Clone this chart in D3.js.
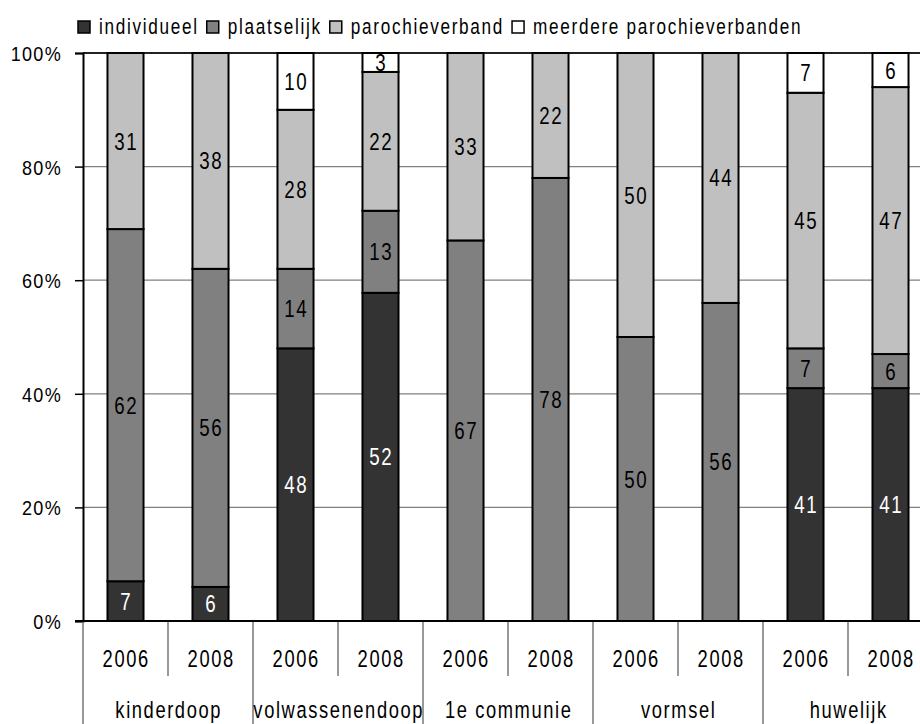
<!DOCTYPE html>
<html><head><meta charset="utf-8">
<script src="https://cdn.jsdelivr.net/npm/d3@7"></script>
<style>
body{margin:0;background:#fff;}
text{font-family:"Liberation Sans Narrow","Arial Narrow","Liberation Sans",Arial,sans-serif;}
</style></head>
<body><svg id="c" width="920" height="724"></svg>
<script>
const groups = ["kinderdoop","volwassenendoop","1e communie","vormsel","huwelijk"];
const years = ["2006","2008"];
const seriesNames = ["individueel","plaatselijk","parochieverband","meerdere parochieverbanden"];
const individueel     = [7, 6, 48, 52, 0, 0, 0, 0, 41, 41];
const plaatselijk     = [62, 56, 14, 13, 67, 78, 50, 56, 7, 6];
const parochieverband = [31, 38, 28, 22, 33, 22, 50, 44, 45, 47];
const meerdere        = [0, 0, 10, 3, 0, 0, 0, 0, 7, 6];
const yTicks = [0, 0.2, 0.4, 0.6, 0.8, 1.0];
const colors = ["#333333","#808080","#c0c0c0","#ffffff"];
const labelColors = ["#ffffff","#000000","#000000","#000000"];

(function(){
const SX = 0.78;
const rows = [];
groups.forEach((g,gi)=>years.forEach((y,yi)=>{
  const i = gi*2+yi;
  rows.push({key:g+"|"+y, group:g, year:y,
    individueel:individueel[i], plaatselijk:plaatselijk[i],
    parochieverband:parochieverband[i], "meerdere parochieverbanden":meerdere[i]});
}));

const svg = d3.select("#c");
const pL = 83, pR = 933, pT = 53, pB = 621;
const x = d3.scaleBand().domain(rows.map(d=>d.key)).range([pL,pR]).paddingInner(0.576).paddingOuter(0.288);
const y = d3.scaleLinear().domain([0,1]).range([pB,pT]);
const stack = d3.stack().keys(seriesNames).offset(d3.stackOffsetExpand);
const series = stack(rows);

function ctext(parent, tx, ty, str, size, anchor, sx, ls){
  return parent.append("text")
    .attr("transform",`translate(${tx},${ty}) scale(${sx},1)`)
    .attr("x",0).attr("y",0).attr("text-anchor",anchor)
    .attr("font-size",size).attr("letter-spacing",ls/sx).text(str);
}

// gridlines
svg.append("g").selectAll("line").data(yTicks.filter(t=>t>0 && t<1)).join("line")
  .attr("x1",pL).attr("x2",920).attr("y1",d=>y(d)).attr("y2",d=>y(d))
  .attr("stroke","#808080").attr("stroke-width",1.2);
svg.append("line").attr("x1",pL).attr("x2",920).attr("y1",y(1)).attr("y2",y(1))
  .attr("stroke","#222").attr("stroke-width",2);

// y axis
const yAxis = d3.axisLeft(y).tickValues(yTicks).tickFormat(d3.format(".0%")).tickSize(8).tickPadding(13);
const ya = svg.append("g").attr("transform",`translate(${pL},0)`).call(yAxis);
ya.select(".domain").attr("stroke","#000").attr("stroke-width",2);
ya.selectAll(".tick line").attr("stroke","#000").attr("stroke-width",1.5);
ya.selectAll(".tick text").attr("font-size",20.5).attr("fill","#000")
  .attr("font-family",'"Liberation Sans",Arial,sans-serif')
  .attr("transform","translate(-21,0) scale(0.88,1)").attr("x",0).attr("dy","0.37em")
  .attr("letter-spacing",1.3/0.88);

// bars
const sg = svg.append("g").selectAll("g").data(series).join("g");
sg.each(function(s,si){
  const g = d3.select(this);
  const segs = s.filter(d=>d.data[s.key]>0);
  g.selectAll("rect").data(segs).join("rect")
    .attr("x",d=>x(d.data.key)).attr("width",x.bandwidth())
    .attr("y",d=>y(d[1])).attr("height",d=>y(d[0])-y(d[1]))
    .attr("fill",colors[si]).attr("stroke","#000").attr("stroke-width",2);
});
const lblG = svg.append("g");
series.forEach((s,si)=>{
  s.filter(d=>d.data[s.key]>0).forEach(d=>{
    ctext(lblG, x(d.data.key)+x.bandwidth()/2+0.7, (y(d[0])+y(d[1]))/2 + 8.5, d.data[s.key], 24, "middle", SX, 1.6)
      .attr("fill",labelColors[si]);
  });
});

// x axis line
svg.append("line").attr("x1",pL-8).attr("x2",920).attr("y1",pB).attr("y2",pB)
  .attr("stroke","#000").attr("stroke-width",2);
// separators
const step = x.step();
const bounds = d3.range(rows.length+1).map(i=>pL+i*step);
svg.append("g").selectAll("line").data(bounds).join("line")
  .attr("x1",d=>d).attr("x2",d=>d).attr("y1",pB+1)
  .attr("y2",(d,i)=>i%2===0?724:676)
  .attr("stroke","#777").attr("stroke-width",1.5);
// year labels
const yrG = svg.append("g");
rows.forEach(d=>ctext(yrG, x(d.key)+x.bandwidth()/2+0.7, 667, d.year, 23.5, "middle", SX, 1.6));
// group labels
const grG = svg.append("g");
groups.forEach((g,i)=>ctext(grG, pL+(i*2+1)*step+0.7, 718, g, 23.5, "middle", SX, 1.6));

// legend
const lg = svg.append("g");
let lx = 78;
seriesNames.forEach((name,i)=>{
  lg.append("rect").attr("x",lx).attr("y",21).attr("width",12).attr("height",12)
    .attr("fill",colors[i]).attr("stroke","#000").attr("stroke-width",1.5);
  const t = ctext(lg, lx+21, 34, name, 22, "start", SX, 1.7);
  const w = t.node().getComputedTextLength()*SX;
  lx = lx + 21 + w + 8;
});
})();
</script></body></html>
